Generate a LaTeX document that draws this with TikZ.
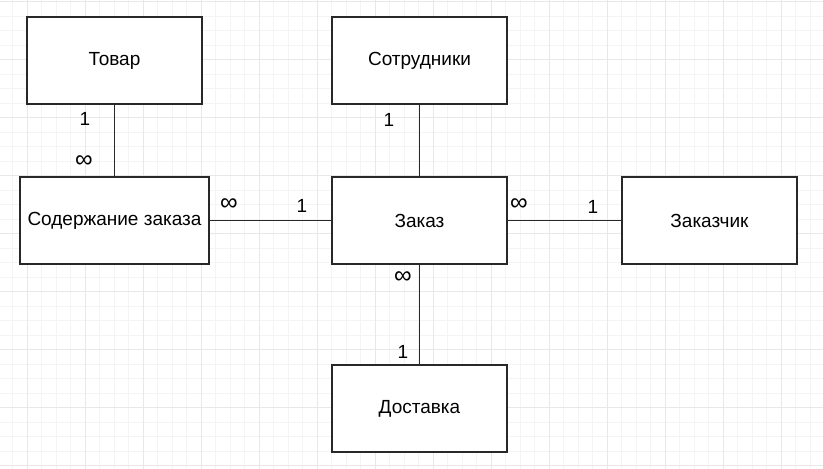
\documentclass[tikz,border=0pt]{standalone}
\usepackage{fontspec}
\setmainfont{Liberation Sans}
\usepackage{tikz}
\definecolor{gridminor}{RGB}{244,244,244}
\definecolor{gridmajor}{RGB}{232,232,232}
\definecolor{boxline}{RGB}{40,40,40}

\begin{document}
\begin{tikzpicture}[x=1pt,y=-1pt,
  entity/.style={draw=boxline,line width=2pt,fill=white,minimum width=174.5pt,
    minimum height=87pt,inner sep=0pt,font=\fontsize{19}{22}\selectfont},
  link/.style={draw=boxline,line width=1.8pt},
  card/.style={inner sep=0pt,font=\fontsize{19}{22}\selectfont}]

 \useasboundingbox (0,0) rectangle (823,469);
 \fill[white] (0,0) rectangle (823,469);

% background grid
 \foreach \i in {0,...,56} \draw[gridminor,line width=1pt] (12.5+14.5*\i,0) -- (12.5+14.5*\i,469);
 \foreach \j in {0,...,32} \draw[gridminor,line width=1pt] (0,1.7+14.5*\j) -- (823,1.7+14.5*\j);
 \foreach \i in {1,5,...,53} \draw[gridmajor,line width=1pt] (12.5+14.5*\i,0) -- (12.5+14.5*\i,469);
 \foreach \j in {0,4,...,32} \draw[gridmajor,line width=1pt] (0,1.7+14.5*\j) -- (823,1.7+14.5*\j);

 \node[entity] (tovar) at (114.5,60.5) {Товар};
 \node[entity,minimum width=189pt] (sostav) at (114.5,220.5) {Содержание заказа};
 \node[entity] (sotr) at (419.5,60.5) {Сотрудники};
 \node[entity] (zakaz) at (419.5,220.5) {Заказ};
 \node[entity] (klient) at (709.5,220.5) {Заказчик};
 \node[entity] (dostavka) at (419.5,408.5) {Доставка};

 \draw[link] (tovar) -- (sostav); % Товар 1 : ∞
 \draw[link] (sostav) -- (zakaz);
 \draw[link] (sotr) -- (zakaz);
 \draw[link] (zakaz) -- (klient);
 \draw[link] (zakaz) -- (dostavka);

 \node[card] (c1) at (85,119) {1};
 \node[card,scale=1.3] (c2) at (84,162) {∞};
 \node[card,scale=1.3] (c3) at (229,205) {∞};
 \node[card] (c4) at (302,206) {1};
 \node[card] (c5) at (389,120) {1};
 \node[card,scale=1.3] (c6) at (519,205) {∞};
 \node[card] (c7) at (593,207) {1};
 \node[card,scale=1.3] (c8) at (403,278) {∞};
 \node[card] (c9) at (403,352) {1};

\end{tikzpicture}
\end{document}
